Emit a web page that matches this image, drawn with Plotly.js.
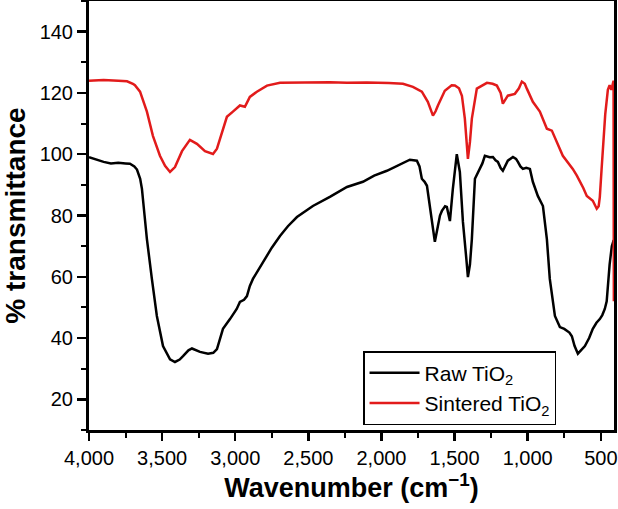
<!DOCTYPE html>
<html><head><meta charset="utf-8">
<script src="https://cdn.plot.ly/plotly-3.0.1.min.js"></script>
<style>html,body{margin:0;padding:0;background:#fff}#c{width:618px;height:509px}</style>
</head><body><div id="c"></div>
<script>
const rawWavenumber = [4000,3950,3900,3850,3800,3750,3720,3690,3672,3650,3638,3620,3604,3570,3536,3494,3446,3412,3380,3357,3320,3296,3260,3241,3186,3150,3125,3100,3084,3036,2990,2968,2940,2920,2900,2879,2810,2750,2694,2640,2578,2469,2353,2236,2127,2050,1963,1880,1806,1758,1740,1724,1705,1689,1669,1650,1635,1614,1600,1587,1565,1553,1532,1512,1485,1464,1443,1420,1409,1395,1382,1361,1327,1310,1293,1260,1238,1220,1204,1185,1170,1150,1136,1101,1080,1067,1050,1033,1010,985,965,931,896,869,849,814,780,750,732,715,698,680,657,635,609,580,555,530,507,490,473,460,452,440,425,412];
const rawTransmittance = [99,98.2,97.5,97,97.2,97,96.9,96,95,92,88.7,80,72.3,59.3,47.2,37.4,33.1,32.2,33,34.1,36,36.6,36,35.5,34.9,35.2,36.4,40,43,46.2,49.5,51.8,52.5,53.7,57,59.3,64.8,69.5,73.3,76.5,79.5,83.1,86.1,89.3,91,93,94.6,96.5,98.2,97.9,96,92,91,89.7,83.1,76,71.4,76.6,80,81.5,83,82.8,78.2,88.7,100,94.2,77.9,66,59.9,64,72.3,92,95.2,97,99.5,99,99.1,98,97.5,95.5,94.6,96.5,97.9,99.1,98.5,97.5,96,95.2,95.6,95.2,91,86.4,83.1,72.3,59.3,47.2,43.6,43,42.3,41.8,40.6,37.5,34.9,36,37.4,40,43,45,46.2,47.5,49.5,52,58.3,64,70,72];
const sinteredWavenumber = [4000,3900,3800,3740,3700,3686,3651,3604,3563,3515,3480,3446,3412,3364,3310,3262,3207,3152,3125,3091,3057,3016,2968,2934,2900,2852,2783,2694,2600,2469,2353,2236,2100,1950,1853,1785,1724,1683,1648,1630,1614,1567,1520,1498,1470,1450,1430,1409,1395,1382,1348,1279,1240,1211,1185,1170,1150,1136,1088,1060,1040,1020,1006,965,917,869,835,801,760,692,664,620,596,555,528,515,507,495,487,470,452,440,428,418,413,411];
const sinteredTransmittance = [124,124.2,124,123.8,123,122.5,120.4,113.9,106,99.5,96.2,94.2,95.8,101,104.7,103.4,101,100.1,101.8,107.3,112.2,113.9,115.9,115.5,118.7,120.4,122.4,123.3,123.4,123.3,123.5,123.3,123.4,123.2,123,122,120.4,117.1,112.6,114,115.9,120.7,122.5,122.4,121.5,119.1,111.6,98.5,104,111.6,121.4,123.3,123,122.4,120,116.5,118,119.1,119.7,121.5,123.7,123,121.4,117.1,113.9,108.3,107.7,104.1,99.5,95.2,93,89,86.4,84.8,82.2,83,86,95,100,113,121,122.5,121,124,124,52];
const seriesNames = ["Raw TiO<sub>2</sub>", "Sintered TiO<sub>2</sub>"];
const xTickVals = [4000,3500,3000,2500,2000,1500,1000,500];
const yTickVals = [20,40,60,80,100,120,140];

const F = "Arial, 'Liberation Sans', sans-serif";
const traces = [
  {x: rawWavenumber, y: rawTransmittance, name: seriesNames[0], mode: "lines", line: {color: "#000000", width: 2.5}},
  {x: sinteredWavenumber, y: sinteredTransmittance, name: seriesNames[1], mode: "lines", line: {color: "#e21b1b", width: 2.5}}
];
const layout = {
  width: 618, height: 509,
  margin: {l: 89, r: 4, t: 1, b: 79},
  paper_bgcolor: "#fff", plot_bgcolor: "#fff",
  font: {family: F, color: "#000", size: 20},
  showlegend: true,
  legend: {x: 0.522, y: 0.184, xanchor: "left", yanchor: "top", bgcolor: "#fff", bordercolor: "#000", borderwidth: 1.5, itemwidth: 50, font: {family: F, size: 21, color: "#000"}},
  xaxis: {
    range: [4000, 410], tickvals: xTickVals, tickformat: ",d",
    showgrid: false, zeroline: false, showline: true, linecolor: "#000", linewidth: 3, mirror: true,
    ticks: "outside", ticklen: 8, tickwidth: 2.5, tickcolor: "#000",
    minor: {dtick: 250, tick0: 0, ticks: "outside", ticklen: 5, tickwidth: 2, tickcolor: "#000", showgrid: false},
    tickfont: {family: F, size: 20, color: "#000"},
    title: {text: "Wavenumber (cm<sup>\u22121</sup>)", font: {family: F, size: 27, color: "#000", weight: "bold"}, standoff: 9}
  },
  yaxis: {
    range: [10, 150], tickvals: yTickVals,
    showgrid: false, zeroline: false, showline: true, linecolor: "#000", linewidth: 3, mirror: true,
    ticks: "outside", ticklen: 9, tickwidth: 2.5, tickcolor: "#000",
    minor: {dtick: 10, tick0: 0, ticks: "outside", ticklen: 5, tickwidth: 2, tickcolor: "#000", showgrid: false},
    tickfont: {family: F, size: 20, color: "#000"},
    title: {text: "% transmittance", font: {family: F, size: 28, color: "#000", weight: "bold"}, standoff: 10}
  }
};
Plotly.newPlot("c", traces, layout, {displayModeBar: false, staticPlot: true});
</script>
</body></html>
